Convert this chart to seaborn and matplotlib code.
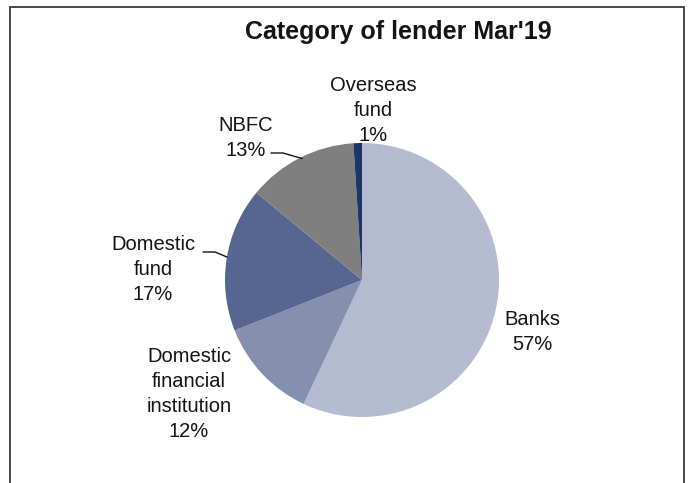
import numpy as np
import matplotlib
matplotlib.use("Agg")
import matplotlib.pyplot as plt
import seaborn as sns
from matplotlib.patches import Rectangle

# Lender mix, March 2019
categories = ["Banks", "Domestic\nfinancial\ninstitution", "Domestic\nfund", "NBFC", "Overseas\nfund"]
shares = [57, 12, 17, 13, 1]
colors = ["#B4BAD0", "#8490AD", "#566690", "#7F7F7F", "#1E3568"]

sns.set_theme(style="white")
plt.rcParams["font.family"] = ["Liberation Sans", "DejaVu Sans"]

W, H = 691, 483
fig = plt.figure(figsize=(W / 100, H / 100), dpi=100)

# pie geometry in pixels
cx, cy, r = 362, 280, 137
ax = fig.add_axes([(cx - r) / W, (H - cy - r) / H, 2 * r / W, 2 * r / H])
ax.pie(shares, colors=colors, startangle=90, counterclock=False, radius=1.0,
       wedgeprops=dict(linewidth=0))
ax.set_xlim(-1, 1)
ax.set_ylim(-1, 1)
ax.set_aspect("equal")
ax.axis("off")


def to_data(px, py):
    return (px - cx) / r, (cy - py) / r


# label anchor points (pixel centres)
label_pos = [(532, 332), (189, 394), (153, 269.5), (246, 138), (373, 110.5)]
for name, val, (px, py) in zip(categories, shares, label_pos):
    x, y = to_data(px, py)
    ax.text(x, y, f"{name}\n{val}%", ha="center", va="center", fontsize=14.5,
            color="#141414", linespacing=1.4, clip_on=False)

# leader lines
for pts in ([(271, 153), (283, 153), (302, 158.5)],
            [(203, 252), (215, 252), (227, 257)]):
    xs, ys = zip(*[to_data(px, py) for px, py in pts])
    ax.plot(xs, ys, color="#141414", lw=1.0, clip_on=False)

fig.text(398 / W, 1 - 39 / H, "Category of lender Mar'19", ha="center", va="baseline",
         fontsize=18, fontweight="bold", color="#141414")

# outer frame
fig.patches.append(Rectangle((9.5 / W, -0.05), (683.5 - 9.5) / W, 1 - 6.5 / H + 0.05,
                             transform=fig.transFigure, fill=False,
                             edgecolor="#3a3a3a", linewidth=1.3))

fig.savefig("out.png", dpi=100)
